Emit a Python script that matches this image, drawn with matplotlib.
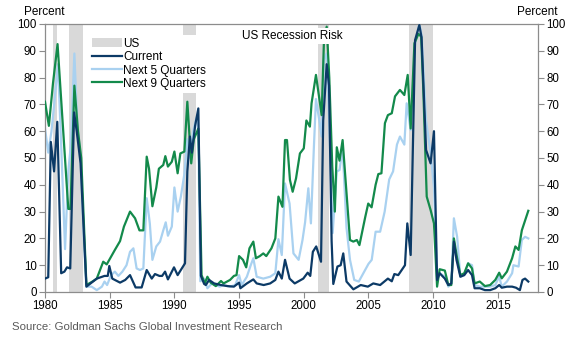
import matplotlib
matplotlib.use('Agg')
import matplotlib.pyplot as plt
from matplotlib.patches import Patch
from matplotlib.lines import Line2D

plt.rcParams['font.family'] = ['Liberation Sans', 'DejaVu Sans']

# recessions (start, end) as drawn
recessions = [(1980.6, 1980.95), (1981.85, 1982.9), (1990.67, 1991.7),
              (2001.1, 2001.95), (2008.1, 2010.0)]

# Current
cur_x = [1980.0, 1980.25, 1980.45, 1980.7, 1980.95, 1981.25, 1981.5, 1981.7, 1981.95,
         1982.25, 1982.45, 1982.75, 1983.2, 1983.6, 1984.0, 1984.6, 1984.85, 1984.97,
         1985.2, 1985.8, 1986.2, 1986.57, 1987.0, 1987.47, 1987.86, 1988.25, 1988.5,
         1988.84, 1989.05, 1989.28, 1989.5, 1989.97, 1990.25, 1990.82, 1991.0, 1991.2,
         1991.35, 1991.6, 1991.85, 1992.05, 1992.3, 1992.43, 1992.68, 1993.07, 1993.6,
         1994.1, 1994.6, 1995.0, 1995.1, 1995.6, 1996.1, 1996.36, 1996.9, 1997.4,
         1997.8, 1998.04, 1998.3, 1998.55, 1998.9, 1999.3, 1999.96, 2000.3, 2000.5,
         2000.7, 2000.96, 2001.33, 2001.5, 2001.77, 2001.95, 2002.15, 2002.28, 2002.6,
         2002.85, 2003.05, 2003.3, 2003.83, 2004.4, 2004.95, 2005.37, 2005.9, 2006.5,
         2006.8, 2007.0, 2007.3, 2007.82, 2008.0, 2008.26, 2008.6, 2008.93, 2009.1,
         2009.45, 2009.8, 2010.06, 2010.3, 2010.5, 2010.9, 2011.17, 2011.4, 2011.6,
         2011.8, 2012.1, 2012.4, 2012.7, 2013.0, 2013.2, 2013.6, 2014.0, 2014.4,
         2014.8, 2015.1, 2015.3, 2015.7, 2016.1, 2016.4, 2016.7, 2016.9, 2017.1, 2017.35]
cur_y = [5, 5.5, 56, 45, 63.5, 7, 7.6, 9.2, 8.8,
         67, 60, 48, 2, 3.5, 5, 6, 6, 9.7,
         5, 3.5, 4.5, 6.3, 1.7, 1.7, 8.2, 5, 6.7,
         6, 6, 7.6, 4.7, 9.2, 6.3, 10.7, 45, 58,
         52, 62, 68.5, 6, 3, 2.6, 4.5, 3.2, 2.6,
         2.2, 2, 3.5, 1.4, 3.2, 4.7, 3.2, 2.6, 3.2,
         4.5, 7.6, 5, 12, 5, 3.2, 5, 7.2, 6,
         15, 17, 11.3, 64, 85, 77, 19, 3, 9.5,
         10, 14.4, 3.9, 1, 2.6, 2, 3.2, 2.6, 5,
         4, 6.7, 6.3, 10, 25.6, 13.8, 94, 99.6, 95,
         53, 48, 60, 4.5, 7, 5, 2.6, 3.2, 18.8,
         12, 5.7, 6.3, 8.2, 6.3, 1.4, 1.4, 0.7, 0.7,
         1.4, 2.6, 1.6, 2, 2, 1.6, 0.7, 4.5, 5, 3.9]

# Next 5 Quarters
n5_x = [1980.0, 1980.25, 1980.5, 1980.75, 1981.0, 1981.25, 1981.55, 1981.8, 1982.0,
        1982.27, 1982.5, 1982.75, 1983.0, 1983.2, 1983.6, 1984.0, 1984.4, 1984.6,
        1984.8, 1985.1, 1985.4, 1985.67, 1985.98, 1986.3, 1986.57, 1986.83, 1987.08,
        1987.34, 1987.6, 1987.86, 1988.1, 1988.3, 1988.6, 1988.89, 1989.14, 1989.33,
        1989.5, 1989.8, 1990.0, 1990.25, 1990.5, 1990.77, 1991.0, 1991.2, 1991.45,
        1991.7, 1991.85, 1992.0, 1992.3, 1992.55, 1992.9, 1993.5, 1993.8, 1994.3,
        1994.7, 1995.0, 1995.2, 1995.6, 1995.9, 1996.1, 1996.36, 1996.87, 1997.4,
        1997.8, 1998.04, 1998.3, 1998.55, 1998.9, 1999.2, 1999.6, 1999.9, 2000.1,
        2000.35, 2000.55, 2000.78, 2000.94, 2001.2, 2001.38, 2001.56, 2001.77, 2001.97,
        2002.23, 2002.55, 2002.76, 2003.0, 2003.3, 2003.57, 2003.9, 2004.25, 2004.6,
        2005.0, 2005.25, 2005.55, 2005.9, 2006.25, 2006.6, 2006.9, 2007.2, 2007.43,
        2007.77, 2007.95, 2008.26, 2008.6, 2008.93, 2009.1, 2009.45, 2009.8, 2010.06,
        2010.3, 2010.5, 2010.9, 2011.17, 2011.4, 2011.6, 2011.85, 2012.1, 2012.4,
        2012.7, 2013.0, 2013.2, 2013.6, 2014.0, 2014.4, 2014.8, 2015.1, 2015.3,
        2015.7, 2016.1, 2016.2, 2016.6, 2016.85, 2017.1, 2017.35]
n5_y = [61, 52, 60, 72, 85, 55, 16, 45, 55,
        89, 62, 50, 20, 2, 2, 0.7, 2, 3.9,
        2.6, 6.3, 7.6, 6, 7.6, 10, 15, 16.3, 8.8,
        8.2, 8.8, 35, 25.6, 12, 17, 18.8, 23, 26,
        21, 24.4, 39, 30, 35.6, 44, 57, 50, 60,
        65, 60, 4, 5, 1.4, 3.2, 2, 2.6, 2,
        2.6, 6.3, 2.6, 5.7, 10, 12.6, 5.7, 5, 5.7,
        7, 19.7, 13.8, 40.5, 33, 14.4, 12, 19.4, 26,
        38.7, 25.6, 54, 72, 64, 58, 86.6, 89, 63,
        22, 45, 45.5, 54, 24, 12, 4.5, 3.9, 7,
        10.5, 12, 22.5, 22.5, 30, 42, 45, 55, 58,
        55, 70.4, 60.4, 92.8, 100, 96, 64, 51.7, 39,
        5.7, 7, 5.7, 2, 3.2, 27.5, 20.6, 5.7, 6.3,
        10.7, 10, 2.6, 2, 2, 2, 2.6, 5.7, 2,
        3.9, 7, 10, 9.5, 19.4, 20.6, 20]

# Next 9 Quarters
n9_x = [1980.0, 1980.3, 1980.62, 1980.97, 1981.8, 1981.97, 1982.27, 1982.55, 1982.8,
        1983.2, 1983.7, 1984.0, 1984.5, 1984.77, 1985.4, 1985.8, 1986.1, 1986.57,
        1986.96, 1987.3, 1987.6, 1987.86, 1988.04, 1988.3, 1988.6, 1988.8, 1989.14,
        1989.3, 1989.5, 1989.8, 1990.0, 1990.25, 1990.46, 1990.77, 1991.0, 1991.3,
        1991.5, 1991.85, 1992.1, 1992.35, 1992.55, 1992.8, 1993.2, 1993.6, 1993.8,
        1994.3, 1994.6, 1994.8, 1995.0, 1995.3, 1995.55, 1995.8, 1996.1, 1996.3,
        1996.6, 1996.87, 1997.1, 1997.5, 1997.8, 1998.04, 1998.35, 1998.55, 1998.7,
        1998.93, 1999.14, 1999.4, 1999.7, 2000.0, 2000.2, 2000.47, 2000.6, 2000.94,
        2001.2, 2001.38, 2001.56, 2001.77, 2001.97, 2002.2, 2002.4, 2002.55, 2002.76,
        2003.0, 2003.27, 2003.57, 2003.83, 2004.1, 2004.3, 2004.75, 2004.98, 2005.24,
        2005.55, 2005.76, 2006.0, 2006.27, 2006.5, 2006.8, 2007.05, 2007.43, 2007.77,
        2008.03, 2008.26, 2008.55, 2008.86, 2009.07, 2009.24, 2009.5, 2009.8, 2010.06,
        2010.3, 2010.5, 2010.9, 2011.17, 2011.4, 2011.6, 2011.85, 2012.1, 2012.4,
        2012.7, 2013.0, 2013.2, 2013.6, 2014.0, 2014.4, 2014.8, 2015.1, 2015.3,
        2015.7, 2016.1, 2016.35, 2016.6, 2016.85, 2017.35]
n9_y = [71, 62, 78, 92.5, 31, 31, 77, 60, 50,
        2.6, 4, 5, 11.3, 10.3, 15.7, 19, 24.4, 30,
        27.5, 23, 23, 50.5, 46, 32, 39, 46, 47.4,
        50.7, 46.8, 48.6, 52.4, 44.3, 51.7, 52.4, 71, 48,
        57, 61, 6.3, 3.2, 5.7, 3.5, 2.2, 4.1, 3.2,
        4.5, 6, 6.3, 13.4, 12, 9.2, 16.3, 18.8, 12.6,
        13.4, 14.4, 13.4, 16.3, 20, 35.6, 31.8, 56.7, 56.7,
        41.8, 37.4, 42.4, 51.7, 53.6, 64, 61.7, 70.4, 81,
        72, 66, 94, 99, 80, 46.8, 30, 54, 49,
        56.7, 39, 19.4, 18.8, 19.4, 17.5, 28, 33, 31.6,
        40, 44, 44.3, 63, 66, 66.7, 73, 75.4, 73.5,
        81, 61, 92.8, 96.3, 95.3, 75, 35.6, 30.6, 25.6,
        2, 8.5, 8, 2.6, 2.6, 20, 12.6, 6.3, 7,
        10.7, 8.8, 3.2, 3.9, 2.2, 2.6, 4.5, 7.2, 5.1,
        7.6, 12.6, 17, 15.7, 23, 30.3]

year_ticks = [1980, 1985, 1990, 1995, 2000, 2005, 2010, 2015]
pct_ticks = [0, 10, 20, 30, 40, 50, 60, 70, 80, 90, 100]

c_cur = '#0c3a66'
c_n5 = '#a9d1f0'
c_n9 = '#138a4b'
c_rec = '#d9d9d9'
c_axis = '#8c8c8c'

fig = plt.figure(figsize=(5.8, 3.43), dpi=100)
ax = fig.add_axes([45 / 580, 1 - 292 / 343, 493 / 580, 268 / 343])

for s, e in recessions:
    ax.axvspan(s, e, color=c_rec, lw=0, zorder=0)

ax.plot(n5_x, n5_y, color=c_n5, lw=1.6, zorder=2)
ax.plot(n9_x, n9_y, color=c_n9, lw=1.6, zorder=3)
ax.plot(cur_x, cur_y, color=c_cur, lw=1.6, zorder=4)

ax.set_xlim(1980, 2018.1)
ax.set_ylim(0, 100)
ax.set_xticks(year_ticks)
ax.set_yticks(pct_ticks)
ax.tick_params(axis='both', direction='out', length=4, width=0.8, color=c_axis,
               labelsize=8.3, pad=2)
ax.tick_params(axis='y', right=True, labelright=True)
for sp in ax.spines.values():
    sp.set_color(c_axis)
    sp.set_linewidth(0.9)

handles = [Patch(facecolor=c_rec, edgecolor='none'),
           Line2D([], [], color=c_cur, lw=1.6),
           Line2D([], [], color=c_n5, lw=1.6),
           Line2D([], [], color=c_n9, lw=1.6)]
leg = ax.legend(handles, ['US', 'Current', 'Next 5 Quarters', 'Next 9 Quarters'],
                loc='upper left', bbox_to_anchor=(0.09, 0.96), fontsize=8.5,
                frameon=True, framealpha=1, edgecolor='none', fancybox=False,
                handlelength=2.5, handleheight=0.9, handletextpad=0.1,
                labelspacing=0.12, borderpad=0.25, borderaxespad=0)
leg.set_zorder(6)

ax.text(0.501, 0.955, 'US Recession Risk', transform=ax.transAxes, ha='center', va='center',
        fontsize=8.5, zorder=7,
        bbox=dict(facecolor='white', edgecolor='none', pad=1.5))

fig.text(44 / 580, 1 - 12 / 343, 'Percent', ha='center', va='center', fontsize=8.5)
fig.text(537 / 580, 1 - 12 / 343, 'Percent', ha='center', va='center', fontsize=8.5)
fig.text(12 / 580, 1 - 327 / 343, 'Source: Goldman Sachs Global Investment Research',
         ha='left', va='center', fontsize=8.2, color='#595959')

fig.savefig('out.png', dpi=100)
